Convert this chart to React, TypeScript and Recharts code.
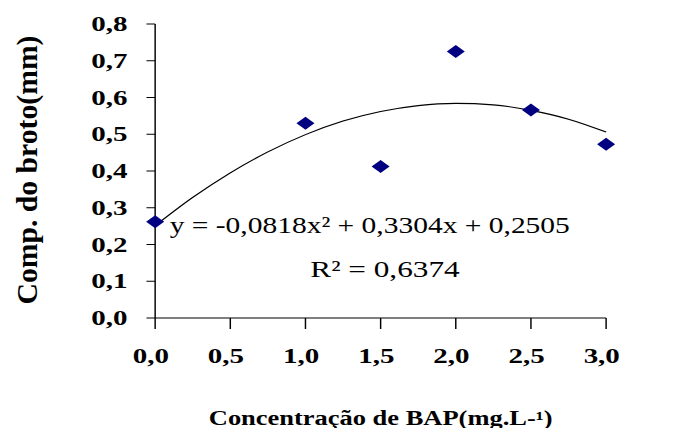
import React from "react";
import {
  ComposedChart,
  Line,
  Scatter,
  XAxis,
  YAxis,
  Customized,
} from "recharts";

// observed points
const bapConc = [0, 1, 1.5, 2, 2.5, 3];
const shootLength = [0.262, 0.53, 0.412, 0.725, 0.566, 0.473];

// trendline
const trendX = [0, 0.25, 0.5, 0.75, 1, 1.25, 1.5, 1.75, 2, 2.25, 2.5, 2.75, 3];
const trendY = [0.251, 0.328, 0.395, 0.452, 0.499, 0.536, 0.562, 0.578, 0.584, 0.58, 0.565, 0.541, 0.506];

const xTicks = [0, 0.5, 1, 1.5, 2, 2.5, 3];
const yTicks = [0, 0.1, 0.2, 0.3, 0.4, 0.5, 0.6, 0.7, 0.8];

const points = bapConc.map((x, i) => ({ x, y: shootLength[i] }));
const trend = trendX.map((x, i) => ({ x, t: trendY[i] }));

// the original picture is stretched horizontally
const SX = 1.45;
const W = 472;
const H = 428;
const FONT = '"Liberation Serif", "Times New Roman", serif';

const fmt = (v: number) => v.toFixed(1).replace(".", ",");

const Diamond = (props: any) => {
  const { cx, cy } = props;
  if (cx == null || cy == null) return null;
  return (
    <path
      d={`M${cx},${cy - 6.5} L${cx + 6.2},${cy} L${cx},${cy + 6.5} L${cx - 6.2},${cy} Z`}
      fill="#000080"
    />
  );
};

const YLabel = (props: any) => {
  const vb = props.viewBox || { x: 0, y: 24, height: 294 };
  const cx = vb.x + 19;
  const cy = vb.y + vb.height / 2 - 1;
  return (
    <text
      x={cx}
      y={cy}
      transform={`rotate(-90 ${cx} ${cy})`}
      textAnchor="middle"
      dominantBaseline="central"
      fontFamily={FONT}
      fontWeight="bold"
      fontSize={20}
      textLength={269}
      lengthAdjust="spacingAndGlyphs"
      fill="#000"
    >
      Comp. do broto(mm)
    </text>
  );
};

const XLabel = (props: any) => {
  const vb = props.viewBox || { x: 107, y: 318, width: 311 };
  return (
    <text
      x={vb.x + vb.width / 2}
      y={vb.y + 107}
      textAnchor="middle"
      fontFamily={FONT}
      fontWeight="bold"
      fontSize={20}
      textLength={237}
      lengthAdjust="spacingAndGlyphs"
      fill="#000"
    >
      Concentração de BAP(mg.L-¹)
    </text>
  );
};

const Equation = () => (
  <g fontFamily={FONT} fill="#000">
    <text x={117} y={233} fontSize={24} textLength={276} lengthAdjust="spacingAndGlyphs">
      y = -0,0818x² + 0,3304x + 0,2505
    </text>
    <text x={214} y={277} fontSize={24} textLength={103} lengthAdjust="spacingAndGlyphs">
      R² = 0,6374
    </text>
  </g>
);

export default function App() {
  return (
    <div
      style={{
        position: "absolute",
        left: 0,
        top: 0,
        width: 684,
        height: H,
        background: "#fff",
        overflow: "hidden",
      }}
    >
      <div style={{ transform: `scaleX(${SX})`, transformOrigin: "0 0", width: W }}>
        <ComposedChart
          width={W}
          height={H}
          margin={{ top: 24, right: 54, bottom: 0, left: 0 }}
        >
          <XAxis
            dataKey="x"
            type="number"
            domain={[0, 3]}
            ticks={xTicks}
            tickFormatter={fmt}
            height={110}
            stroke="#000"
            tickSize={11}
            tickMargin={20}
            tick={{ fill: "#000", fontSize: 20, fontWeight: "bold", fontFamily: FONT, dx: -3 }}
            label={<XLabel />}
          />
          <YAxis
            type="number"
            domain={[0, 0.8]}
            ticks={yTicks}
            tickFormatter={fmt}
            width={107}
            stroke="#000"
            tickSize={6}
            tickMargin={13}
            tick={{ fill: "#000", fontSize: 20, fontWeight: "bold", fontFamily: FONT }}
            label={<YLabel />}
          />
          <Line
            data={trend}
            dataKey="t"
            type="monotone"
            stroke="#000"
            strokeWidth={1.1}
            dot={false}
            activeDot={false}
            isAnimationActive={false}
          />
          <Scatter
            data={points}
            dataKey="y"
            shape={<Diamond />}
            isAnimationActive={false}
          />
          <Customized component={Equation} />
        </ComposedChart>
      </div>
    </div>
  );
}
